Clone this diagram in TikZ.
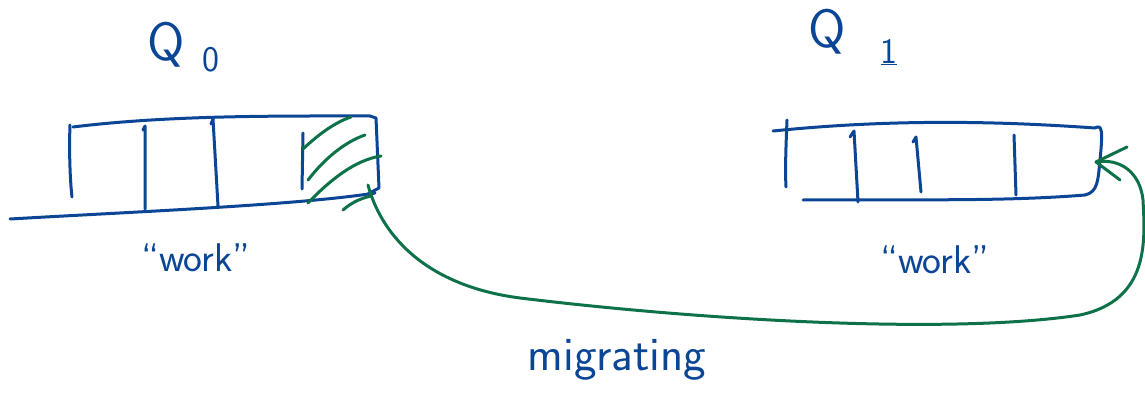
\documentclass[tikz,border=0pt]{standalone}
\usepackage{tikz}
\usetikzlibrary{arrows.meta}

\definecolor{penblue}{HTML}{0B4595}
\definecolor{pengreen}{HTML}{0E7249}

\begin{document}
\begin{tikzpicture}[x=1pt, y=-1pt, line width=3pt, line cap=round, line join=round,
  ink/.style={draw=penblue},
  hatch/.style={draw=pengreen},
  scrawl/.style={text=penblue, inner sep=0pt, font=\sffamily\fontsize{40}{46}\selectfont}]

  %% ==== Q_0 queue ====
  \node[scrawl, font=\sffamily\fontsize{54}{60}\selectfont] (qzero) at (166.0,45.0) {Q};
  \node[scrawl, font=\sffamily\fontsize{36}{40}\selectfont] (qzerosub) at (211.0,60.0) {0};
  \draw[ink] (70.0,125.0) .. controls (69.0,150.0) and (70.0,180.0) .. (72.0,197.0);
  \draw[ink] (73.0,127.0) .. controls (170.0,115.0) and (280.0,116.0) .. (370.0,116.0);
  \draw[ink] (370.0,116.0) -- (376.0,118.0) -- (379.0,188.0) -- (368.0,194.0);
  \draw[ink] (10.0,219.0) .. controls (130.0,212.0) and (300.0,205.0) .. (375.0,193.0);
  \draw[ink] (143.0,130.0) -- (145.0,126.0) -- (145.0,209.0);
  \draw[ink] (211.0,124.0) -- (213.0,119.0) -- (218.0,206.0);
  \draw[ink] (303.0,133.0) -- (302.0,189.0);
  \node[scrawl] (workzero) at (196.0,258.0) {``work''};

  %% ==== hatching of the migrating slot ====
  \draw[hatch] (303.0,149.0) .. controls (320.0,133.0) and (336.0,122.0) .. (351.0,117.0);
  \draw[hatch] (308.0,180.0) .. controls (325.0,158.0) and (345.0,142.0) .. (365.0,135.0);
  \draw[hatch] (308.0,203.0) .. controls (330.0,180.0) and (355.0,160.0) .. (381.0,156.0);
  \draw[hatch] (343.0,210.0) .. controls (352.0,202.0) and (362.0,198.0) .. (371.0,196.0);

  %% ==== Q_1 queue ====
  \node[scrawl, font=\sffamily\fontsize{54}{60}\selectfont] (qone) at (827.0,32.0) {Q};
  \node[scrawl, font=\sffamily\fontsize{36}{40}\selectfont] (qonesub) at (889.0,52.0) {\underline{1}};
  \draw[ink] (787.0,120.0) .. controls (786.0,145.0) and (785.0,170.0) .. (786.0,187.0);
  \draw[ink] (773.0,131.0) .. controls (900.0,118.0) and (1010.0,122.0) .. (1095.0,128.0);
  \draw[ink] (1095.0,128.0) .. controls (1102.0,124.0) and (1103.0,130.0) .. (1100.0,160.0)
    .. controls (1098.0,180.0) and (1098.0,192.0) .. (1085.0,195.0);
  \draw[ink] (803.0,200.0) .. controls (900.0,199.0) and (1000.0,202.0) .. (1085.0,195.0);
  \draw[ink] (850.0,137.0) -- (854.0,131.0) -- (858.0,202.0);
  \draw[ink] (913.0,142.0) -- (916.0,137.0) -- (921.0,192.0);
  \draw[ink] (1014.0,135.0) -- (1016.0,195.0);
  \node[scrawl] (workone) at (935.0,260.0) {``work''};

  %% ==== migration arrow ====
  \coordinate (from) at (368.0,185.0);
  \coordinate (to) at (1096.0,162.0);
  \draw[hatch] (from) .. controls (380.0,230.0) and (420.0,285.0) .. (520.0,298.0)
    .. controls (700.0,320.0) and (950.0,335.0) .. (1080.0,315.0)
    .. controls (1150.0,300.0) and (1145.0,240.0) .. (1143.0,200.0)
    .. controls (1140.0,172.0) and (1120.0,158.0) .. (to);
  \draw[hatch] (1127.0,147.0) -- (to) -- (1120.0,180.0);
  \node[scrawl, font=\sffamily\fontsize{48}{54}\selectfont] (migr) at (617.0,360.0) {migrating};

  \pgfresetboundingbox
  \path[use as bounding box] (0,0) rectangle (1145,409);
\end{tikzpicture}
\end{document}
